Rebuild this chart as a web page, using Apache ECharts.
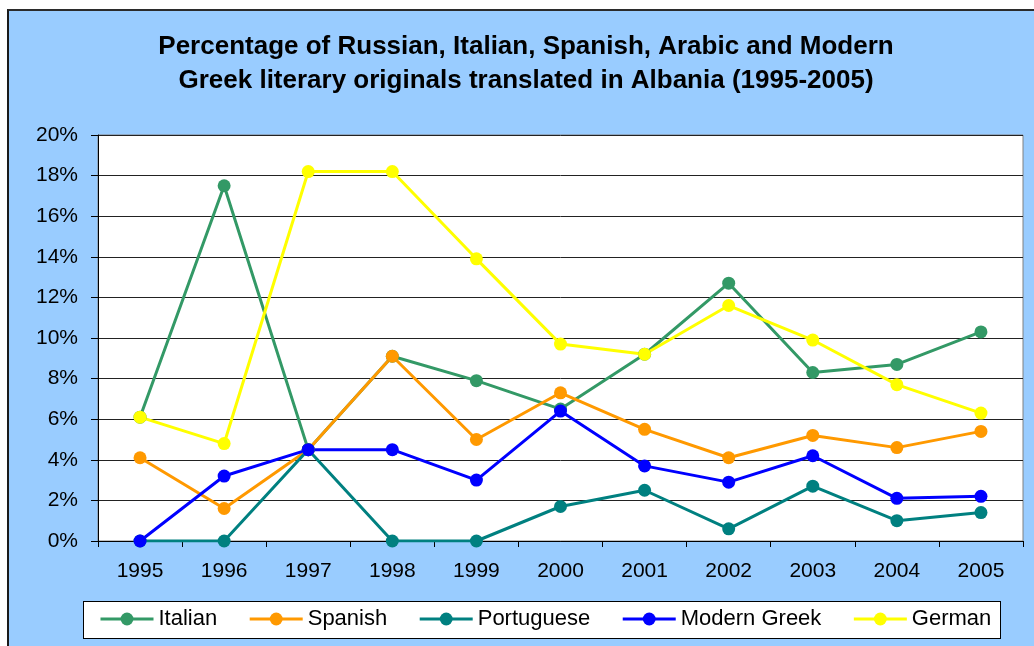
<!DOCTYPE html>
<html>
<head>
<meta charset="utf-8">
<script src="https://cdn.jsdelivr.net/npm/echarts@6/dist/echarts.min.js"></script>
<style>
  html, body { margin: 0; padding: 0; background: #ffffff; }
  #wrap { position: relative; width: 1034px; height: 646px; overflow: hidden; }
  #frame { position: absolute; left: 7px; top: 9px; width: 1100px; height: 700px;
           background: #99CCFF; border-top: 2px solid #2b2b2b; border-left: 2px solid #1a1a1a; box-sizing: border-box; }
  #legbox { position: absolute; left: 83px; top: 601px; width: 918px; height: 38px;
            background: #ffffff; border: 1px solid #000; box-sizing: border-box; }
  #chart { position: absolute; left: 0; top: 0; width: 1034px; height: 646px; }
</style>
</head>
<body>
<div id="wrap">
  <div id="frame"></div>
  <div id="legbox"></div>
  <div id="chart"></div>
</div>
<script>
const years = ['1995','1996','1997','1998','1999','2000','2001','2002','2003','2004','2005'];
const italian     = [6.1, 17.5, 4.5, 9.1, 7.9, 6.5, 9.2, 12.7, 8.3, 8.7, 10.3];
const spanish     = [4.1, 1.6, 4.5, 9.1, 5.0, 7.3, 5.5, 4.1, 5.2, 4.6, 5.4];
const portuguese  = [0, 0, 4.5, 0, 0, 1.7, 2.5, 0.6, 2.7, 1.0, 1.4];
const modernGreek = [0, 3.2, 4.5, 4.5, 3.0, 6.4, 3.7, 2.9, 4.2, 2.1, 2.2];
const german      = [6.1, 4.8, 18.2, 18.2, 13.9, 9.7, 9.2, 11.6, 9.9, 7.7, 6.3];
const seriesNames = ['Italian', 'Spanish', 'Portuguese', 'Modern Greek', 'German'];
const seriesColors = ['#339966', '#FF9900', '#008080', '#0000FF', '#FFFF00'];
const seriesData = [italian, spanish, portuguese, modernGreek, german];
const titleText = 'Percentage of Russian, Italian, Spanish, Arabic and Modern\nGreek literary originals translated in Albania (1995-2005)';

const FONT = '"Liberation Sans", Arial, sans-serif';
const chart = echarts.init(document.getElementById('chart'), null, { renderer: 'canvas' });
chart.setOption({
  backgroundColor: 'transparent',
  animation: false,
  textStyle: { fontFamily: FONT },
  title: {
    text: titleText,
    left: 526,
    top: 30,
    padding: 0,
    textAlign: 'center',
    textStyle: { fontFamily: FONT, fontWeight: 'bold', fontSize: 26, color: '#000', lineHeight: 34 }
  },
  legend: {
    data: seriesNames,
    left: 99,
    top: 608,
    itemWidth: 53,
    itemHeight: 16,
    itemGap: 31,
    padding: 0,
    lineStyle: { width: 3 },
    textStyle: { fontFamily: FONT, fontSize: 22, color: '#000', padding: [0, 0, 0, 0] }
  },
  grid: {
    left: 98, right: 11, top: 135, bottom: 105,
    show: true, backgroundColor: '#ffffff', borderColor: '#808080', borderWidth: 1,
    containLabel: false
  },
  xAxis: {
    type: 'category',
    data: years,
    boundaryGap: true,
    axisLine: { show: true, lineStyle: { color: '#000', width: 1 } },
    axisTick: { show: true, interval: 0, length: 6, lineStyle: { color: '#000' } },
    axisLabel: { interval: 0, fontFamily: FONT, fontSize: 21, color: '#000', margin: 20 },
    splitLine: { show: false }
  },
  yAxis: {
    type: 'value',
    min: 0, max: 20, interval: 2,
    axisLine: { show: true, lineStyle: { color: '#000', width: 1 } },
    axisTick: { show: true, length: 7, lineStyle: { color: '#000' } },
    axisLabel: { formatter: '{value}%', fontFamily: FONT, fontSize: 21, color: '#000', margin: 20 },
    splitLine: { show: true, lineStyle: { color: '#222', width: 1 } }
  },
  series: seriesNames.map((name, i) => ({
    name: name,
    type: 'line',
    data: seriesData[i],
    color: seriesColors[i],
    symbol: 'circle',
    symbolSize: 13,
    lineStyle: { width: 3, color: seriesColors[i] },
    itemStyle: { color: seriesColors[i] },
    emphasis: { disabled: true }
  }))
});
</script>
</body>
</html>
